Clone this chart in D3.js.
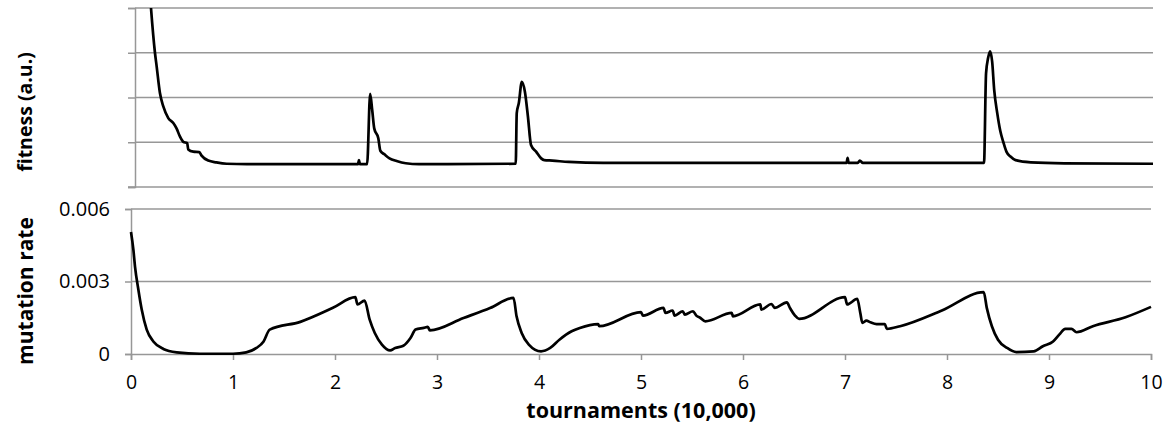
<!DOCTYPE html>
<html>
<head>
<meta charset="utf-8">
<script src="https://cdn.jsdelivr.net/npm/d3@7"></script>
<style>
  body { margin: 0; background: #fff; }
  svg { display: block; }
  text { font-family: "Open Sans", sans-serif; fill: #000; }
</style>
</head>
<body>
<svg id="chart" width="1168" height="426"></svg>
<script>
// fitness (arbitrary units), [tournaments / 10,000, value]
var fitness = [
  [0, 14], [0.05, 9], [0.1, 6], [0.157, 4.0], [0.196, 3.0], [0.213, 2.69], [0.245, 2.10],
  [0.278, 1.80], [0.327, 1.54], [0.376, 1.43], [0.408, 1.31], [0.441, 1.13], [0.474, 1.01],
  [0.513, 0.98], [0.523, 0.84], [0.572, 0.79], [0.631, 0.78], [0.654, 0.70], [0.719, 0.59],
  [0.80, 0.55], [0.90, 0.52], [1.10, 0.51], [2.19, 0.51], [2.20, 0.60], [2.21, 0.51],
  [2.28, 0.51], [2.31, 2.08], [2.33, 1.72], [2.35, 1.31], [2.39, 1.09], [2.41, 0.81],
  [2.45, 0.73], [2.50, 0.64], [2.57, 0.58], [2.66, 0.53], [2.79, 0.51], [3.74, 0.52],
  [3.75, 1.65], [3.77, 1.87], [3.80, 2.35], [3.83, 2.13], [3.86, 1.57], [3.89, 0.94],
  [3.94, 0.79], [3.99, 0.64], [4.02, 0.60], [4.10, 0.59], [4.26, 0.56], [4.6, 0.54],
  [6.99, 0.54], [7.00, 0.65], [7.01, 0.54], [7.10, 0.54], [7.12, 0.59], [7.15, 0.54],
  [8.34, 0.54], [8.36, 2.54], [8.38, 2.88], [8.40, 3.03], [8.42, 2.80], [8.44, 2.17],
  [8.47, 1.65], [8.50, 1.25], [8.53, 1.00], [8.56, 0.79], [8.60, 0.68], [8.65, 0.60],
  [8.80, 0.55], [9.13, 0.53], [10.0, 0.52]
];

// mutation rate, [tournaments / 10,000, rate]
var mutationRate = [
  [0, 0.00505], [0.023, 0.00433], [0.039, 0.00363], [0.072, 0.00267], [0.105, 0.00184],
  [0.154, 0.00101], [0.219, 0.00052], [0.317, 0.00021], [0.448, 0.00007], [0.676, 0.00001],
  [1.0, 0.00001], [1.13, 0.00007], [1.23, 0.00025], [1.30, 0.00052], [1.36, 0.00101],
  [1.66, 0.00133], [1.98, 0.00191], [2.20, 0.00235], [2.22, 0.00205], [2.29, 0.00221],
  [2.34, 0.00142], [2.39, 0.00087], [2.46, 0.00039], [2.54, 0.00015], [2.59, 0.00025],
  [2.67, 0.00034], [2.74, 0.00066], [2.79, 0.00101], [2.87, 0.00108], [2.91, 0.00112],
  [2.93, 0.00098], [3.26, 0.00149], [3.52, 0.00190], [3.75, 0.00232], [3.78, 0.00156],
  [3.83, 0.00087], [3.90, 0.00039], [4.02, 0.00011], [4.11, 0.00025], [4.20, 0.00059],
  [4.32, 0.00094], [4.40, 0.00108], [4.58, 0.00124], [4.59, 0.00115], [5.00, 0.00173],
  [5.02, 0.00159], [5.22, 0.00191], [5.24, 0.00170], [5.31, 0.00180], [5.33, 0.00159],
  [5.41, 0.00177], [5.43, 0.00163], [5.51, 0.00177], [5.54, 0.00160], [5.58, 0.00150],
  [5.63, 0.00135], [5.89, 0.00170], [5.90, 0.00156], [6.17, 0.00205], [6.18, 0.00184],
  [6.28, 0.00207], [6.31, 0.00191], [6.43, 0.00214], [6.46, 0.00191], [6.51, 0.00159],
  [6.55, 0.00145], [7.00, 0.00235], [7.02, 0.00205], [7.12, 0.00228], [7.15, 0.00170],
  [7.17, 0.00129], [7.21, 0.00138], [7.25, 0.00131], [7.31, 0.00124], [7.39, 0.00124],
  [7.41, 0.00104], [7.54, 0.00115], [7.95, 0.00180], [8.36, 0.00256], [8.39, 0.00191],
  [8.44, 0.00115], [8.50, 0.00059], [8.59, 0.00025], [8.68, 0.00008], [8.85, 0.00011],
  [8.94, 0.00032], [9.04, 0.00052], [9.10, 0.00080], [9.16, 0.00104], [9.22, 0.00104],
  [9.27, 0.00090], [9.43, 0.00115], [9.75, 0.00152], [10.0, 0.00195]
];

var xTicks = [0, 1, 2, 3, 4, 5, 6, 7, 8, 9, 10];
var fitnessTicks = [0, 1, 2, 3, 4];
var rateTicks = [0, 0.003, 0.006];

var svg = d3.select("#chart");
var gridColor = "#979797";

// ---------- top panel: fitness ----------
var xTop = d3.scaleLinear().domain([0, 10]).range([135, 1153]);
var yTop = d3.scaleLinear().domain([0, 4]).range([187, 8]);

var top_g = svg.append("g").attr("class", "top_panel");

top_g.selectAll(".grid")
  .data(fitnessTicks.slice(1))
  .enter().append("line")
  .attr("x1", xTop(0)).attr("x2", xTop(10))
  .attr("y1", d => yTop(d)).attr("y2", d => yTop(d))
  .style("stroke", gridColor).style("stroke-width", 1.5);

top_g.append("g")
  .attr("transform", "translate(" + xTop(0) + ",0)")
  .call(d3.axisLeft(yTop).tickValues(fitnessTicks).tickSize(7).tickFormat(""))
  .call(g => g.selectAll("line, path").style("stroke", gridColor).style("stroke-width", 1.5));

top_g.append("line")
  .attr("x1", xTop(0) - 7).attr("x2", xTop(10))
  .attr("y1", yTop(0)).attr("y2", yTop(0))
  .style("stroke", gridColor).style("stroke-width", 1.5);

svg.append("clipPath").attr("id", "topclip")
  .append("rect")
  .attr("x", xTop(0)).attr("y", yTop(4))
  .attr("width", 1168 - xTop(0)).attr("height", yTop(0) - yTop(4));

top_g.append("path")
  .datum(fitness)
  .attr("clip-path", "url(#topclip)")
  .attr("d", d3.line().x(d => xTop(d[0])).y(d => yTop(d[1])).curve(d3.curveMonotoneX))
  .style("fill", "none")
  .style("stroke", "#000")
  .style("stroke-width", 2.7)
  .style("stroke-linejoin", "round");

top_g.append("text")
  .attr("transform", "translate(32," + 112 + ") rotate(-90)")
  .style("text-anchor", "middle")
  .style("font-weight", "bold")
  .style("font-size", "19.5px")
  .text("fitness (a.u.)");

// ---------- bottom panel: mutation rate ----------
var xBot = d3.scaleLinear().domain([0, 10]).range([131, 1151]);
var yBot = d3.scaleLinear().domain([0, 0.006]).range([354, 209]);

var bot_g = svg.append("g").attr("class", "bottom_panel");

bot_g.selectAll(".grid")
  .data(rateTicks.slice(1))
  .enter().append("line")
  .attr("x1", xBot(0)).attr("x2", xBot(10))
  .attr("y1", d => yBot(d)).attr("y2", d => yBot(d))
  .style("stroke", gridColor).style("stroke-width", 1.5);

bot_g.append("g")
  .attr("transform", "translate(" + xBot(0) + ",0)")
  .call(d3.axisLeft(yBot).tickValues(rateTicks).tickSize(6).tickPadding(15)
    .tickFormat(d => d === 0 ? "0" : d3.format(".3f")(d)))
  .call(g => g.selectAll("line, path").style("stroke", gridColor).style("stroke-width", 1.5))
  .call(g => g.selectAll("text").style("font-size", "20px").style("font-family", "'Open Sans', sans-serif").attr("fill", "#000"));

bot_g.append("g")
  .attr("transform", "translate(0," + yBot(0) + ")")
  .call(d3.axisBottom(xBot).tickValues(xTicks).tickSize(6).tickPadding(15).tickFormat(d3.format("d")))
  .call(g => g.selectAll("line, path").style("stroke", gridColor).style("stroke-width", 1.5))
  .call(g => g.selectAll("text").style("font-size", "19.5px").style("font-family", "'Open Sans', sans-serif").attr("fill", "#000"));

bot_g.append("path")
  .datum(mutationRate)
  .attr("d", d3.line().x(d => xBot(d[0])).y(d => yBot(d[1])).curve(d3.curveMonotoneX))
  .style("fill", "none")
  .style("stroke", "#000")
  .style("stroke-width", 2.7)
  .style("stroke-linejoin", "round");

bot_g.append("text")
  .attr("transform", "translate(33," + 291 + ") rotate(-90)")
  .style("text-anchor", "middle")
  .style("font-weight", "bold")
  .style("font-size", "21px")
  .text("mutation rate");

svg.append("text")
  .attr("x", 641).attr("y", 418)
  .style("text-anchor", "middle")
  .style("font-weight", "bold")
  .style("font-size", "21.5px")
  .text("tournaments (10,000)");
</script>
</body>
</html>
